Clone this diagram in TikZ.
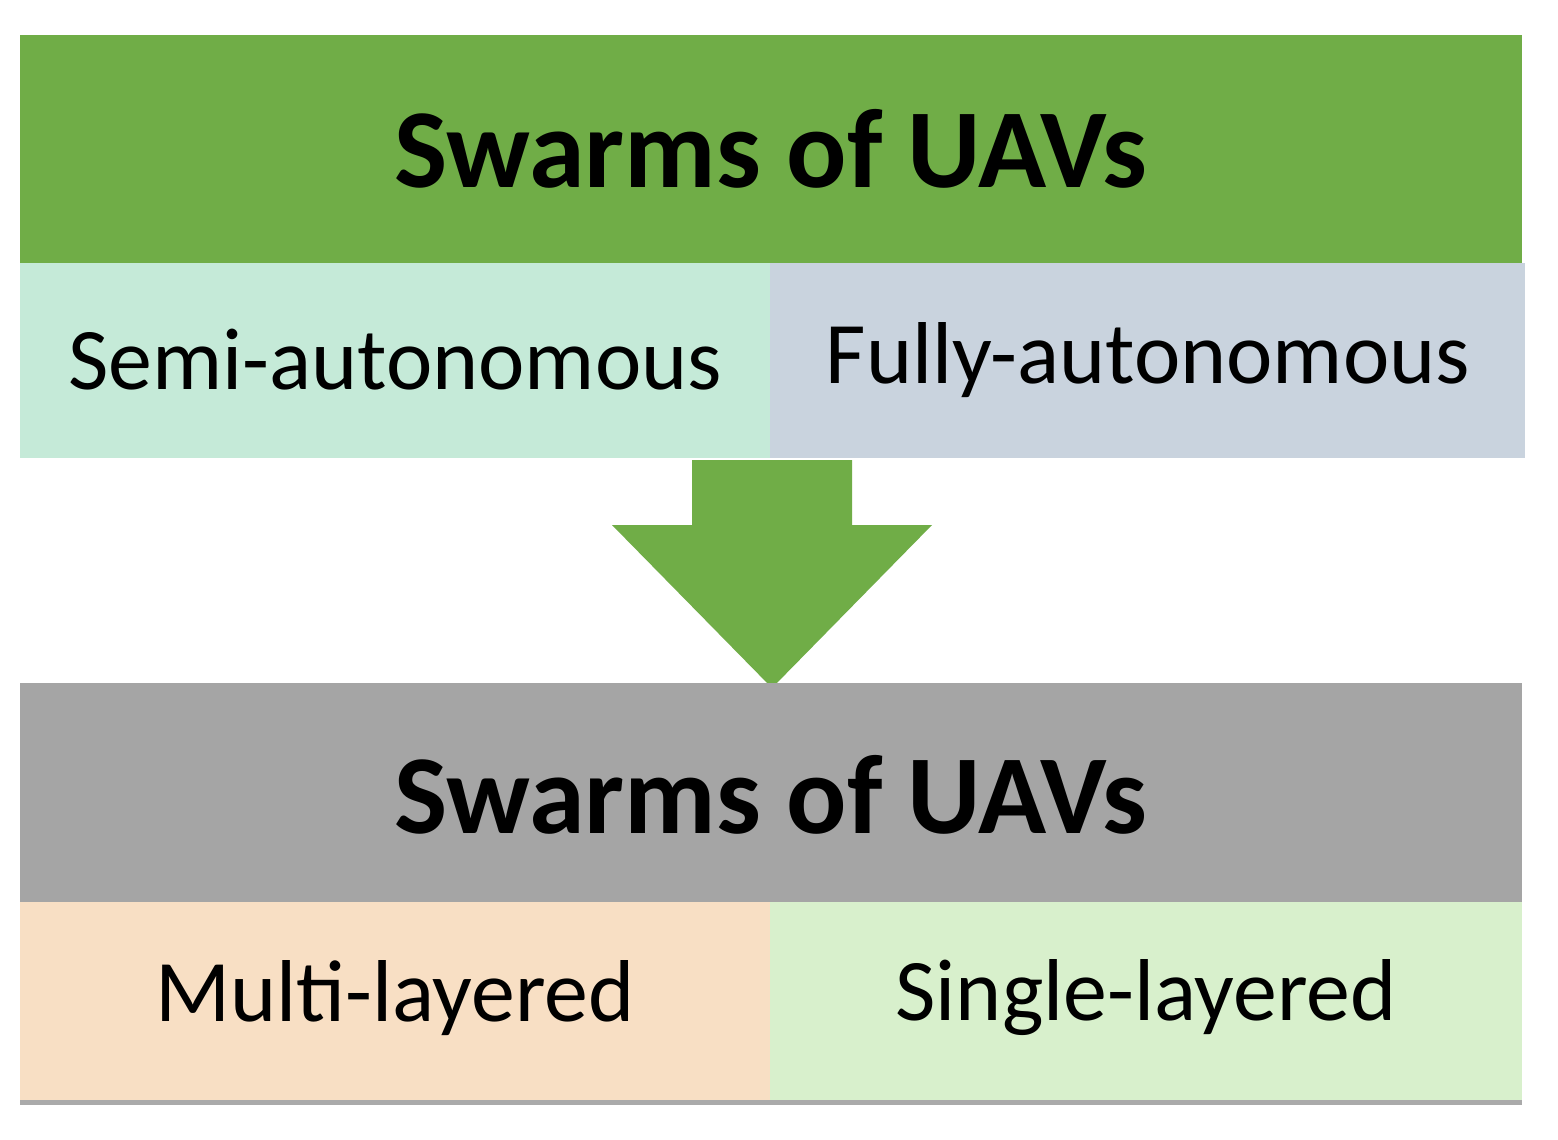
\documentclass[tikz,border=0pt]{standalone}
\usepackage{fontspec}
\setmainfont{Carlito}
\begin{document}
\begin{tikzpicture}[x=0.02cm,y=-0.02cm,
 box/.style={draw=none,inner sep=0pt},
 ttl/.style={font=\fontsize{64}{70}\selectfont\bfseries},
 lbl/.style={font=\fontsize{50}{56}\selectfont}]
\useasboundingbox (0,0) rectangle (1558,1139);
\fill[fill=white] (0,0) rectangle (1558,1139);
\fill[color={rgb,255:red,112;green,173;blue,71}] (20,35) rectangle (1522,263);
\fill[color={rgb,255:red,197;green,234;blue,216}] (20,263) rectangle (770,458);
\fill[color={rgb,255:red,201;green,211;blue,222}] (770,263) rectangle (1525,458);
\fill[color={rgb,255:red,112;green,173;blue,71}] (692,460) -- (852,460) -- (852,525) -- (932,525) -- (772,688) -- (612,525) -- (692,525) -- cycle;
\fill[color={rgb,255:red,165;green,165;blue,165}] (20,683) rectangle (1522,902);
\fill[color={rgb,255:red,248;green,223;blue,196}] (20,902) rectangle (770,1100);
\fill[color={rgb,255:red,216;green,240;blue,204}] (770,902) rectangle (1522,1100);
\fill[color={rgb,255:red,170;green,170;blue,170}] (20,1100) rectangle (1522,1105);
\node[box,ttl] (t1) at (771,149) {Swarms of UAVs};
\node[box,lbl] (s) at (395,360) {Semi-autonomous};
\node[box,lbl] (f) at (1148,360) {Fully-autonomous};
\node[box,ttl] (t2) at (771,795) {Swarms of UAVs};
\node[box,lbl] (m) at (395,998) {Multi-layered};
\node[box,lbl] (sl) at (1146,998) {Single-layered};
\end{tikzpicture}
\end{document}
